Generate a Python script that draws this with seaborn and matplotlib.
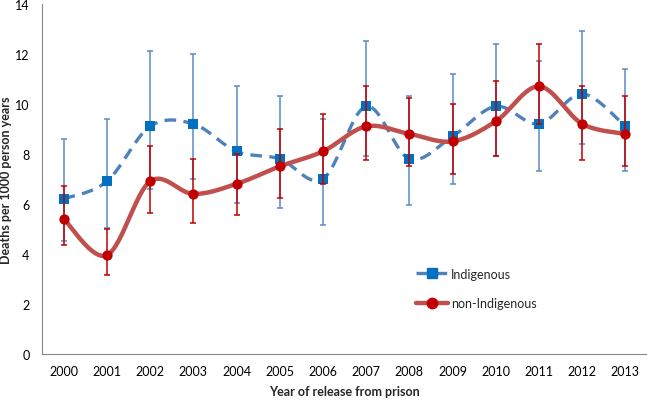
import numpy as np
import pandas as pd
import matplotlib
matplotlib.use('Agg')
import matplotlib.pyplot as plt
import seaborn as sns
from matplotlib.lines import Line2D

# Values
years = ['2000', '2001', '2002', '2003', '2004', '2005', '2006',
         '2007', '2008', '2009', '2010', '2011', '2012', '2013']

indig = [6.2, 6.9, 9.1, 9.2, 8.1, 7.8, 7.0, 9.9, 7.8, 8.7, 9.9, 9.2, 10.4, 9.1]
indig_lo = [4.5, 5.05, 6.6, 7.0, 6.05, 5.85, 5.15, 7.9, 5.95, 6.8, 7.9, 7.3, 8.4, 7.3]
indig_hi = [8.6, 9.4, 12.1, 12.0, 10.7, 10.3, 9.4, 12.5, 10.3, 11.2, 12.4, 11.7, 12.9, 11.4]

nonind = [5.4, 3.95, 6.9, 6.4, 6.8, 7.5, 8.1, 9.1, 8.8, 8.5, 9.3, 10.7, 9.2, 8.8]
nonind_lo = [4.35, 3.15, 5.65, 5.25, 5.55, 6.25, 6.8, 7.75, 7.5, 7.2, 7.9, 9.2, 7.75, 7.5]
nonind_hi = [6.7, 5.0, 8.3, 7.8, 8.0, 9.0, 9.6, 10.7, 10.25, 10.0, 10.9, 12.4, 10.7, 10.3]


def smooth(y, n=30):
    # Excel-style smoothed line (Catmull-Rom as cubic Bezier)
    y = np.asarray(y, dtype=float)
    x = np.arange(len(y), dtype=float)
    px = np.concatenate([[x[0]], x, [x[-1]]])
    py = np.concatenate([[y[0]], y, [y[-1]]])
    xs, ys = [], []
    t = np.linspace(0, 1, n)
    for i in range(1, len(px) - 2):
        p0 = np.array([px[i], py[i]])
        p3 = np.array([px[i + 1], py[i + 1]])
        c1 = p0 + (p3 - np.array([px[i - 1], py[i - 1]])) / 6
        c2 = p3 - (np.array([px[i + 2], py[i + 2]]) - p0) / 6
        b = ((1 - t) ** 3)[:, None] * p0 + (3 * (1 - t) ** 2 * t)[:, None] * c1 \
            + (3 * (1 - t) * t ** 2)[:, None] * c2 + (t ** 3)[:, None] * p3
        xs.extend(b[:, 0])
        ys.extend(b[:, 1])
    return pd.DataFrame({'x': xs, 'y': ys})


sns.set_theme(style='white')
plt.rcParams['font.family'] = ['Lato', 'DejaVu Sans']

blue_line = '#4F81BD'
blue_mark = '#0070C0'
red_line = '#C0504D'
red_mark = '#C00000'

fig = plt.figure(figsize=(6.47, 4.02), dpi=100)
ax = fig.add_axes([0.065, 0.117, 0.935, 0.871])

x = np.arange(len(years))

# Indigenous
ax.errorbar(x, indig, yerr=[np.subtract(indig, indig_lo), np.subtract(indig_hi, indig)],
            fmt='none', ecolor='#5B8AC6', elinewidth=1.1, capsize=2.5, capthick=1.1, zorder=2)
s = smooth(indig)
sns.lineplot(data=s, x='x', y='y', ax=ax, color=blue_line, linewidth=2.4,
             sort=False, estimator=None, zorder=3)
ax.lines[-1].set_dashes([3.5, 2.2])
sns.scatterplot(x=x, y=indig, ax=ax, marker='s', s=42, color=blue_mark,
                edgecolor=blue_mark, linewidth=0, zorder=4)

# non-Indigenous
ax.errorbar(x, nonind, yerr=[np.subtract(nonind, nonind_lo), np.subtract(nonind_hi, nonind)],
            fmt='none', ecolor=red_mark, elinewidth=1.1, capsize=2.5, capthick=1.1, zorder=5)
s = smooth(nonind)
sns.lineplot(data=s, x='x', y='y', ax=ax, color=red_line, linewidth=3.2,
             sort=False, estimator=None, zorder=6)
sns.scatterplot(x=x, y=nonind, ax=ax, marker='o', s=55, color=red_mark,
                edgecolor=red_mark, linewidth=0, zorder=7)

ax.set_xlim(-0.5, len(years) - 0.5)
ax.set_ylim(0, 14)
ax.set_yticks(range(0, 15, 2))
ax.set_xticks(x)
ax.set_xticklabels(years)
ax.set_xticks(np.arange(-0.5, len(years), 1), minor=True)
ax.tick_params(axis='x', which='major', length=0, pad=8, labelsize=9, colors='black')
ax.tick_params(axis='x', which='minor', length=4, width=0.8, color='#888888', direction='out')
ax.tick_params(axis='y', length=4, width=0.8, direction='out', pad=5,
               labelsize=9, color='#888888', labelcolor='black')
for side in ['top', 'right']:
    ax.spines[side].set_visible(False)
for side in ['left', 'bottom']:
    ax.spines[side].set_color('#888888')
    ax.spines[side].set_linewidth(0.8)

ax.set_xlabel('Year of release from prison', fontsize=9, fontweight='bold', labelpad=6)
ax.set_ylabel('Deaths per 1000 person years', fontsize=9, fontweight='bold')
ax.yaxis.set_label_coords(-0.05, 0.5)

handles = [
    Line2D([], [], color=blue_line, linewidth=2.4, dashes=[3.5, 2.2], marker='s',
           markersize=6.5, markerfacecolor=blue_mark, markeredgecolor=blue_mark),
    Line2D([], [], color=red_line, linewidth=3.2, marker='o',
           markersize=7.5, markerfacecolor=red_mark, markeredgecolor=red_mark),
]
fig.legend(handles, ['Indigenous', 'non-Indigenous'], loc='upper left',
           bbox_to_anchor=(0.625, 0.36), frameon=False, fontsize=9,
           handlelength=2.6, handletextpad=0.2, labelspacing=1.4)

fig.savefig('out.png', dpi=100)
